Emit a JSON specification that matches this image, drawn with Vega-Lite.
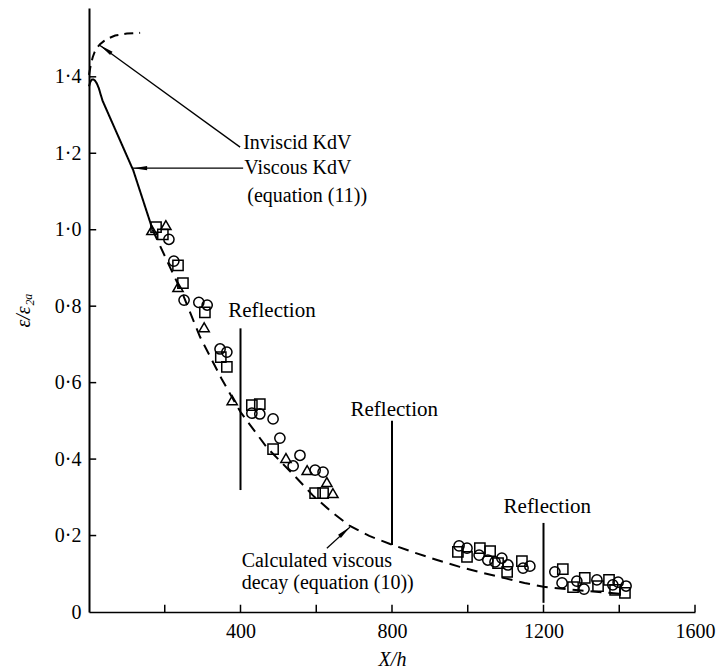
{
  "$schema": "https://vega.github.io/schema/vega-lite/v6.json",
  "width": 606,
  "height": 604,
  "autosize": {"type": "none"},
  "padding": {"left": 89, "top": 8, "right": 26, "bottom": 60},
  "background": "white",
  "config": {
    "view": {"stroke": null},
    "font": "Liberation Serif",
    "axis": {"grid": false, "ticks": false, "domainColor": "black", "labelColor": "black", "titleColor": "black", "labelFont": "Liberation Serif", "titleFont": "Liberation Serif", "labelFontSize": 20, "titleFontSize": 20, "titleFontWeight": "normal", "titleFontStyle": "italic"}
  },
  "datasets": {
    "curves": [
      {"curve": "inviscid", "x": 0, "y": 1.405},
      {"curve": "inviscid", "x": 3, "y": 1.422},
      {"curve": "inviscid", "x": 6, "y": 1.437},
      {"curve": "inviscid", "x": 10, "y": 1.452},
      {"curve": "inviscid", "x": 15, "y": 1.465},
      {"curve": "inviscid", "x": 21, "y": 1.476},
      {"curve": "inviscid", "x": 29, "y": 1.485},
      {"curve": "inviscid", "x": 40, "y": 1.494},
      {"curve": "inviscid", "x": 50, "y": 1.5},
      {"curve": "inviscid", "x": 69, "y": 1.508},
      {"curve": "inviscid", "x": 100, "y": 1.513},
      {"curve": "inviscid", "x": 135, "y": 1.515},
      {"curve": "viscous", "x": 0, "y": 1.375},
      {"curve": "viscous", "x": 4, "y": 1.388},
      {"curve": "viscous", "x": 8, "y": 1.393},
      {"curve": "viscous", "x": 12, "y": 1.393},
      {"curve": "viscous", "x": 16, "y": 1.39},
      {"curve": "viscous", "x": 21, "y": 1.382},
      {"curve": "viscous", "x": 26, "y": 1.37},
      {"curve": "viscous", "x": 31, "y": 1.353},
      {"curve": "viscous", "x": 36, "y": 1.337},
      {"curve": "viscous", "x": 117, "y": 1.155},
      {"curve": "viscous", "x": 168, "y": 1.0},
      {"curve": "calculated", "x": 168, "y": 1.0},
      {"curve": "calculated", "x": 210, "y": 0.91},
      {"curve": "calculated", "x": 248, "y": 0.83},
      {"curve": "calculated", "x": 293, "y": 0.72},
      {"curve": "calculated", "x": 350, "y": 0.61},
      {"curve": "calculated", "x": 400, "y": 0.523},
      {"curve": "calculated", "x": 470, "y": 0.43},
      {"curve": "calculated", "x": 539, "y": 0.36},
      {"curve": "calculated", "x": 591, "y": 0.305},
      {"curve": "calculated", "x": 640, "y": 0.262},
      {"curve": "calculated", "x": 689, "y": 0.225},
      {"curve": "calculated", "x": 740, "y": 0.199},
      {"curve": "calculated", "x": 795, "y": 0.178},
      {"curve": "calculated", "x": 860, "y": 0.155},
      {"curve": "calculated", "x": 919, "y": 0.136},
      {"curve": "calculated", "x": 979, "y": 0.118},
      {"curve": "calculated", "x": 1040, "y": 0.102},
      {"curve": "calculated", "x": 1100, "y": 0.088},
      {"curve": "calculated", "x": 1150, "y": 0.076},
      {"curve": "calculated", "x": 1200, "y": 0.066},
      {"curve": "calculated", "x": 1300, "y": 0.056},
      {"curve": "calculated", "x": 1400, "y": 0.048}
    ],
    "points": [
      {"kind": "square", "x": 177, "y": 1.007},
      {"kind": "triangle", "x": 166, "y": 0.999},
      {"kind": "triangle", "x": 203, "y": 1.012},
      {"kind": "square", "x": 195, "y": 0.988},
      {"kind": "circle", "x": 211, "y": 0.975},
      {"kind": "circle", "x": 224, "y": 0.918},
      {"kind": "square", "x": 235, "y": 0.907},
      {"kind": "square", "x": 248, "y": 0.86},
      {"kind": "triangle", "x": 235, "y": 0.85},
      {"kind": "circle", "x": 251, "y": 0.816},
      {"kind": "circle", "x": 290, "y": 0.81},
      {"kind": "circle", "x": 312, "y": 0.803},
      {"kind": "square", "x": 306, "y": 0.784},
      {"kind": "triangle", "x": 304, "y": 0.745},
      {"kind": "circle", "x": 346, "y": 0.688},
      {"kind": "circle", "x": 364, "y": 0.68},
      {"kind": "square", "x": 348, "y": 0.667},
      {"kind": "square", "x": 364, "y": 0.641},
      {"kind": "triangle", "x": 378, "y": 0.554},
      {"kind": "square", "x": 430, "y": 0.541},
      {"kind": "square", "x": 451, "y": 0.544},
      {"kind": "circle", "x": 430, "y": 0.52},
      {"kind": "circle", "x": 451, "y": 0.518},
      {"kind": "circle", "x": 486, "y": 0.505},
      {"kind": "circle", "x": 504, "y": 0.455},
      {"kind": "square", "x": 486, "y": 0.426},
      {"kind": "triangle", "x": 520, "y": 0.403},
      {"kind": "circle", "x": 539, "y": 0.382},
      {"kind": "circle", "x": 557, "y": 0.41},
      {"kind": "triangle", "x": 576, "y": 0.371},
      {"kind": "circle", "x": 597, "y": 0.371},
      {"kind": "circle", "x": 618, "y": 0.366},
      {"kind": "triangle", "x": 628, "y": 0.34},
      {"kind": "square", "x": 597, "y": 0.311},
      {"kind": "square", "x": 618, "y": 0.311},
      {"kind": "triangle", "x": 644, "y": 0.311},
      {"kind": "circle", "x": 977, "y": 0.173},
      {"kind": "square", "x": 974, "y": 0.157},
      {"kind": "circle", "x": 998, "y": 0.167},
      {"kind": "square", "x": 998, "y": 0.144},
      {"kind": "square", "x": 1032, "y": 0.167},
      {"kind": "circle", "x": 1030, "y": 0.149},
      {"kind": "square", "x": 1059, "y": 0.159},
      {"kind": "circle", "x": 1053, "y": 0.136},
      {"kind": "circle", "x": 1072, "y": 0.131},
      {"kind": "circle", "x": 1090, "y": 0.141},
      {"kind": "square", "x": 1080, "y": 0.128},
      {"kind": "circle", "x": 1106, "y": 0.123},
      {"kind": "square", "x": 1104, "y": 0.105},
      {"kind": "square", "x": 1143, "y": 0.133},
      {"kind": "circle", "x": 1164, "y": 0.12},
      {"kind": "circle", "x": 1146, "y": 0.115},
      {"kind": "circle", "x": 1230, "y": 0.105},
      {"kind": "square", "x": 1251, "y": 0.112},
      {"kind": "circle", "x": 1249, "y": 0.076},
      {"kind": "square", "x": 1278, "y": 0.065},
      {"kind": "circle", "x": 1288, "y": 0.081},
      {"kind": "square", "x": 1309, "y": 0.089},
      {"kind": "circle", "x": 1307, "y": 0.06},
      {"kind": "circle", "x": 1341, "y": 0.084},
      {"kind": "square", "x": 1344, "y": 0.068},
      {"kind": "square", "x": 1373, "y": 0.084},
      {"kind": "circle", "x": 1383, "y": 0.071},
      {"kind": "circle", "x": 1397, "y": 0.078},
      {"kind": "square", "x": 1389, "y": 0.058},
      {"kind": "circle", "x": 1418, "y": 0.068},
      {"kind": "square", "x": 1415, "y": 0.05}
    ],
    "reflections": [
      {"x": 400, "y": 0.319, "y2": 0.742, "tx": 483, "ty": 0.787},
      {"x": 800, "y": 0.175, "y2": 0.5, "tx": 806, "ty": 0.528},
      {"x": 1200, "y": 0.024, "y2": 0.233, "tx": 1210, "ty": 0.275}
    ],
    "ticks": [
      {"x": 200, "y": 0, "x2": 200, "y2": 0.019},
      {"x": 400, "y": 0, "x2": 400, "y2": 0.019},
      {"x": 600, "y": 0, "x2": 600, "y2": 0.019},
      {"x": 800, "y": 0, "x2": 800, "y2": 0.019},
      {"x": 1000, "y": 0, "x2": 1000, "y2": 0.019},
      {"x": 1200, "y": 0, "x2": 1200, "y2": 0.019},
      {"x": 1400, "y": 0, "x2": 1400, "y2": 0.019},
      {"x": 1600, "y": 0, "x2": 1600, "y2": 0.019},
      {"x": 0, "y": 0.2, "x2": 19, "y2": 0.2},
      {"x": 0, "y": 0.4, "x2": 19, "y2": 0.4},
      {"x": 0, "y": 0.6, "x2": 19, "y2": 0.6},
      {"x": 0, "y": 0.8, "x2": 19, "y2": 0.8},
      {"x": 0, "y": 1.0, "x2": 19, "y2": 1.0},
      {"x": 0, "y": 1.2, "x2": 19, "y2": 1.2},
      {"x": 0, "y": 1.4, "x2": 19, "y2": 1.4}
    ],
    "arrows": [
      {"arrow": "inviscid", "x": 399, "y": 1.216, "x2": 29, "y2": 1.482, "hx": 44, "hy": 1.472},
      {"arrow": "viscous", "x": 407, "y": 1.161, "x2": 116, "y2": 1.161, "hx": 135, "hy": 1.161},
      {"arrow": "calculated", "x": 628, "y": 0.167, "x2": 689, "y2": 0.222, "hx": 675, "hy": 0.21}
    ],
    "notes": [
      {"label": "Inviscid KdV", "x": 407, "y": 1.226},
      {"label": "Viscous KdV", "x": 410, "y": 1.161},
      {"label": "(equation (11))", "x": 418, "y": 1.088},
      {"label": "Calculated viscous", "x": 403, "y": 0.133},
      {"label": "decay (equation (10))", "x": 403, "y": 0.075}
    ]
  },
  "layer": [
    {
      "data": {"name": "curves"},
      "mark": {"type": "line", "color": "black", "strokeWidth": 2, "interpolate": "linear"},
      "encoding": {
        "x": {"field": "x", "type": "quantitative", "scale": {"domain": [0, 1600], "nice": false},
          "axis": {"values": [400, 800, 1200, 1600], "format": "d", "labelPadding": 9, "labelOverlap": false, "labelFlush": false, "domainWidth": 1.6, "title": "X/h", "titlePadding": 8}},
        "y": {"field": "y", "type": "quantitative", "scale": {"domain": [0, 1.58], "nice": false},
          "axis": {"values": [0, 0.2, 0.4, 0.6, 0.8, 1.0, 1.2, 1.4], "labelExpr": "datum.value == 0 ? '0' : replace(format(datum.value, '.1f'), '.', '·')", "labelPadding": 8, "labelOverlap": false, "labelFlush": false, "domainWidth": 2, "title": "ε/ε₂ₐ", "titlePadding": 21}},
        "detail": {"field": "curve"},
        "strokeDash": {"field": "curve", "type": "nominal", "scale": {"domain": ["inviscid", "viscous", "calculated"], "range": [[9, 6], [1, 0], [11, 7]]}, "legend": null}
      }
    },
    {
      "data": {"name": "ticks"},
      "mark": {"type": "rule", "color": "black", "strokeWidth": 1.5, "opacity": 1},
      "encoding": {
        "x": {"field": "x", "type": "quantitative"},
        "y": {"field": "y", "type": "quantitative"},
        "x2": {"field": "x2"},
        "y2": {"field": "y2"}
      }
    },
    {
      "data": {"name": "reflections"},
      "mark": {"type": "rule", "color": "black", "strokeWidth": 2},
      "encoding": {
        "x": {"field": "x", "type": "quantitative"},
        "y": {"field": "y", "type": "quantitative"},
        "y2": {"field": "y2"}
      }
    },
    {
      "data": {"name": "reflections"},
      "mark": {"type": "text", "text": "Reflection", "fontSize": 21, "font": "Liberation Serif", "align": "center", "baseline": "middle", "color": "black"},
      "encoding": {
        "x": {"field": "tx", "type": "quantitative"},
        "y": {"field": "ty", "type": "quantitative"}
      }
    },
    {
      "data": {"name": "points"},
      "mark": {"type": "point", "filled": false, "color": "black", "strokeWidth": 1.5, "size": 105, "opacity": 1},
      "encoding": {
        "x": {"field": "x", "type": "quantitative"},
        "y": {"field": "y", "type": "quantitative"},
        "shape": {"field": "kind", "type": "nominal", "scale": {"domain": ["circle", "square", "triangle"], "range": ["circle", "square", "triangle-up"]}, "legend": null}
      }
    },
    {
      "data": {"name": "arrows"},
      "mark": {"type": "rule", "color": "black", "strokeWidth": 1.3},
      "encoding": {
        "x": {"field": "x", "type": "quantitative"},
        "y": {"field": "y", "type": "quantitative"},
        "x2": {"field": "x2"},
        "y2": {"field": "y2"}
      }
    },
    {
      "data": {"name": "arrows"},
      "transform": [{"filter": "datum.arrow == 'inviscid'"}],
      "mark": {"type": "point", "shape": "M0,-1L-0.3,1L0.3,1Z", "filled": true, "color": "black", "size": 196, "angle": 306, "opacity": 1},
      "encoding": {
        "x": {"field": "hx", "type": "quantitative"},
        "y": {"field": "hy", "type": "quantitative"}
      }
    },
    {
      "data": {"name": "arrows"},
      "transform": [{"filter": "datum.arrow == 'viscous'"}],
      "mark": {"type": "point", "shape": "M0,-1L-0.3,1L0.3,1Z", "filled": true, "color": "black", "size": 196, "angle": 270, "opacity": 1},
      "encoding": {
        "x": {"field": "hx", "type": "quantitative"},
        "y": {"field": "hy", "type": "quantitative"}
      }
    },
    {
      "data": {"name": "arrows"},
      "transform": [{"filter": "datum.arrow == 'calculated'"}],
      "mark": {"type": "point", "shape": "M0,-1L-0.3,1L0.3,1Z", "filled": true, "color": "black", "size": 196, "angle": 48, "opacity": 1},
      "encoding": {
        "x": {"field": "hx", "type": "quantitative"},
        "y": {"field": "hy", "type": "quantitative"}
      }
    },
    {
      "data": {"name": "notes"},
      "mark": {"type": "text", "fontSize": 20, "font": "Liberation Serif", "align": "left", "baseline": "middle", "color": "black"},
      "encoding": {
        "x": {"field": "x", "type": "quantitative"},
        "y": {"field": "y", "type": "quantitative"},
        "text": {"field": "label"}
      }
    }
  ]
}
